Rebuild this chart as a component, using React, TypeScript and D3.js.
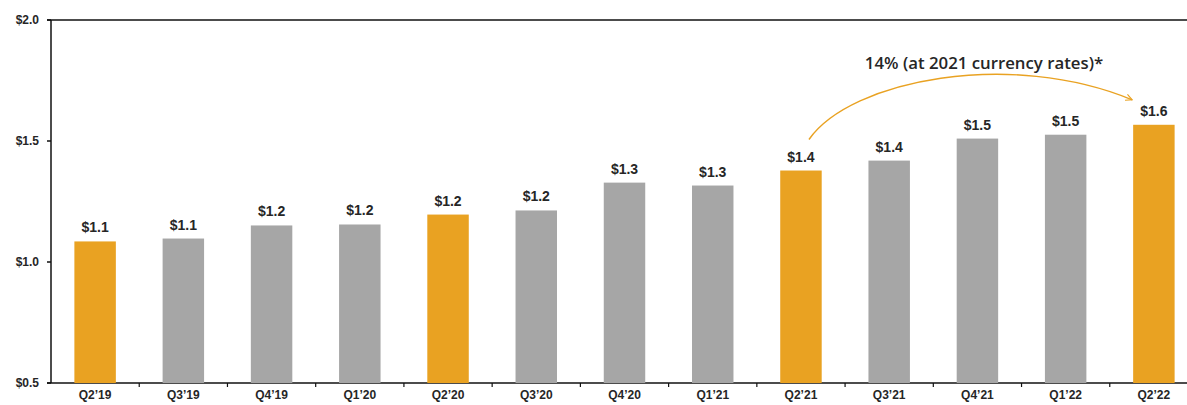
import { useEffect, useRef } from 'react';
import * as d3 from 'd3';

const quarters = ["Q2’19", "Q3’19", "Q4’19", "Q1’20", "Q2’20", "Q3’20", "Q4’20", "Q1’21", "Q2’21", "Q3’21", "Q4’21", "Q1’22", "Q2’22"];
const revenue = [1.085, 1.097, 1.151, 1.155, 1.196, 1.213, 1.328, 1.316, 1.378, 1.419, 1.51, 1.526, 1.567];
const valueLabels = ['$1.1', '$1.1', '$1.2', '$1.2', '$1.2', '$1.2', '$1.3', '$1.3', '$1.4', '$1.4', '$1.5', '$1.5', '$1.6'];
const highlighted = ["Q2’19", "Q2’20", "Q2’21", "Q2’22"];
const yTicks = [0.5, 1.0, 1.5, 2.0];

const W = 1187;
const H = 405;
const ORANGE = '#E9A222';
const GRAY = '#A6A6A6';
const TEXT = '#262626';
const FONT = '"Liberation Sans", Arial, sans-serif';

export default function App() {
  const svgRef = useRef<SVGSVGElement>(null);

  useEffect(() => {
    if (!svgRef.current) return;
    const svg = d3.select(svgRef.current);
    svg.selectAll('*').remove();

    const left = 51;
    const top = 20;
    const bottom = 383;

    const x = d3.scaleBand()
      .domain(quarters)
      .range([left, 1198])
      .paddingInner(0.53)
      .paddingOuter(0.265);
    const y = d3.scaleLinear().domain([0.5, 2.0]).range([bottom, top]);
    const step = x.step();

    // frame: top line, left axis, bottom axis
    svg.append('line')
      .attr('x1', left - 4).attr('x2', W)
      .attr('y1', top).attr('y2', top)
      .attr('stroke', '#111').attr('stroke-width', 1.5);
    svg.append('line')
      .attr('x1', left).attr('x2', left)
      .attr('y1', top).attr('y2', bottom)
      .attr('stroke', '#111').attr('stroke-width', 1.5);
    svg.append('line')
      .attr('x1', left - 4).attr('x2', W)
      .attr('y1', bottom).attr('y2', bottom)
      .attr('stroke', '#111').attr('stroke-width', 1.5);

    // y ticks
    const yg = svg.append('g');
    yg.selectAll('line')
      .data(yTicks)
      .enter().append('line')
      .attr('x1', left - 4).attr('x2', left)
      .attr('y1', d => y(d)).attr('y2', d => y(d))
      .attr('stroke', '#111').attr('stroke-width', 1.5);
    yg.selectAll('text')
      .data(yTicks)
      .enter().append('text')
      .attr('x', left - 12)
      .attr('y', d => y(d))
      .attr('dy', '0.35em')
      .attr('text-anchor', 'end')
      .attr('font-family', FONT)
      .attr('font-weight', 'bold')
      .attr('font-size', 12)
      .attr('fill', TEXT)
      .text(d => '$' + d.toFixed(1));

    // x ticks at category boundaries
    svg.append('g').selectAll('line')
      .data(quarters.slice(1))
      .enter().append('line')
      .attr('x1', d => (x(d) || 0) - (step - x.bandwidth()) / 2)
      .attr('x2', d => (x(d) || 0) - (step - x.bandwidth()) / 2)
      .attr('y1', bottom).attr('y2', bottom + 4)
      .attr('stroke', '#111').attr('stroke-width', 1.2);

    // bars
    svg.append('g').selectAll('rect')
      .data(quarters)
      .enter().append('rect')
      .attr('x', d => x(d) || 0)
      .attr('width', x.bandwidth())
      .attr('y', (d, i) => y(revenue[i]))
      .attr('height', (d, i) => bottom - y(revenue[i]))
      .attr('fill', d => highlighted.includes(d) ? ORANGE : GRAY);

    // value labels
    svg.append('g').selectAll('text')
      .data(quarters)
      .enter().append('text')
      .attr('x', d => (x(d) || 0) + x.bandwidth() / 2)
      .attr('y', (d, i) => y(revenue[i]) - 9)
      .attr('text-anchor', 'middle')
      .attr('font-family', FONT)
      .attr('font-weight', 'bold')
      .attr('font-size', 14)
      .attr('fill', TEXT)
      .text((d, i) => valueLabels[i]);

    // category labels
    svg.append('g').selectAll('text')
      .data(quarters)
      .enter().append('text')
      .attr('x', d => (x(d) || 0) + x.bandwidth() / 2)
      .attr('y', bottom + 16)
      .attr('text-anchor', 'middle')
      .attr('font-family', FONT)
      .attr('font-weight', 'bold')
      .attr('font-size', 12)
      .attr('fill', TEXT)
      .text(d => d);

    // growth annotation arrow, from above Q2'21 to above Q2'22
    const x0 = (x(quarters[8]) || 0) + x.bandwidth() / 2 + 8;
    const y0 = y(revenue[8]) - 31;
    const x1 = (x(quarters[12]) || 0) - 1;
    const y1 = y(revenue[12]) - 25;

    const defs = svg.append('defs');
    defs.append('marker')
      .attr('id', 'arrowhead')
      .attr('viewBox', '0 0 10 10')
      .attr('refX', 9).attr('refY', 5)
      .attr('markerWidth', 8).attr('markerHeight', 8)
      .attr('orient', 'auto')
      .attr('markerUnits', 'userSpaceOnUse')
      .append('path')
      .attr('d', 'M1,1 L9,5 L1,9')
      .attr('fill', 'none')
      .attr('stroke', ORANGE)
      .attr('stroke-width', 1.4);

    const path = d3.path();
    path.moveTo(x0, y0);
    path.bezierCurveTo(x0 + 42, y0 - 60, x0 + 202, y0 - 90, x1, y1);
    svg.append('path')
      .attr('d', path.toString())
      .attr('fill', 'none')
      .attr('stroke', ORANGE)
      .attr('stroke-width', 1.4)
      .attr('marker-end', 'url(#arrowhead)');

    svg.append('text')
      .attr('x', 984)
      .attr('y', 69)
      .attr('text-anchor', 'middle')
      .attr('font-family', '"Open Sans", sans-serif')
      .attr('font-weight', 600)
      .attr('font-size', 16.8)
      .attr('fill', TEXT)
      .text('14% (at 2021 currency rates)*');
  }, []);

  return (
    <div style={{ position: 'absolute', left: 0, top: 0 }}>
      <svg ref={svgRef} width={W} height={H} style={{ display: 'block', background: '#fff' }} />
    </div>
  );
}
